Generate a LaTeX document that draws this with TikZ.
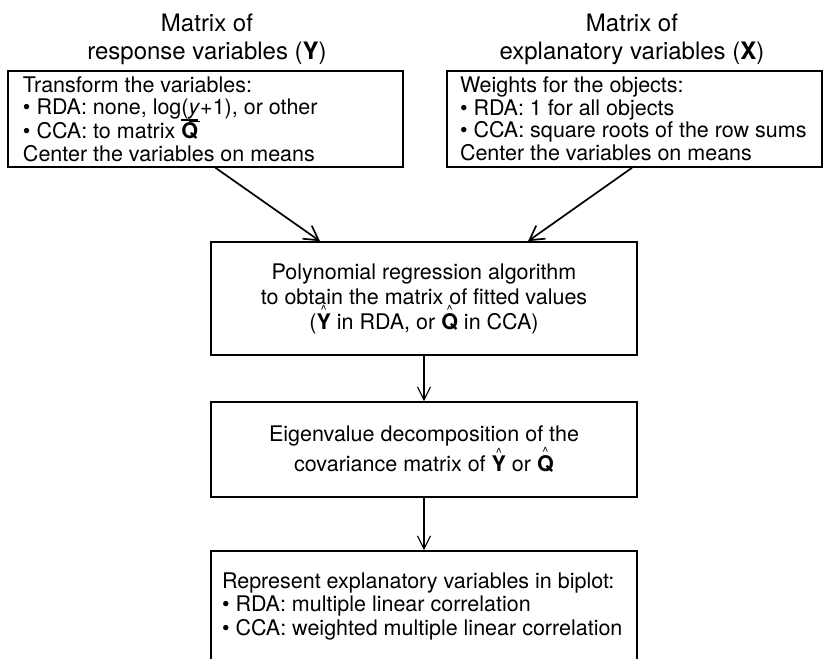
\documentclass[tikz,border=0pt]{standalone}
\usepackage{fontspec}
\setmainfont{TeX Gyre Heros}
\usetikzlibrary{arrows.meta}
\newcommand\hatbf[1]{\leavevmode\setbox0\hbox{\textbf{#1}}\setbox2\hbox{\fontsize{13}{13}\selectfont\textasciicircum}\rlap{\hbox to\wd0{\hss\raisebox{\dimexpr\ht0-1pt\relax}{\copy2}\hss}}\box0\relax}
\newcommand\barbf[1]{\leavevmode\setbox0\hbox{\textbf{#1}}\rlap{\smash{\raisebox{\dimexpr\ht0+1.2pt\relax}{\rule{\wd0}{2pt}}}}\box0\relax}
\tikzset{
  titletxt/.style={align=center, font=\fontsize{24}{28}\selectfont, inner sep=0pt},
  topbox/.style={draw, line width=1.6pt, rectangle, minimum height=96pt, inner ysep=0pt, align=flush left, font=\fontsize{21.5}{22.5}\selectfont},
  midbox/.style={draw, line width=1.6pt, rectangle, minimum width=426pt, inner sep=0pt, align=center, font=\fontsize{21.5}{25}\selectfont},
  arr/.style={line width=1.7pt, -{Straight Barb[length=14pt, width=16pt, line width=1.7pt]}},
  varr/.style={line width=1.2pt, -{Straight Barb[length=13pt, width=13pt, line width=1.2pt]}}
}
\begin{document}
\begin{tikzpicture}[x=1pt, y=-1pt]
\useasboundingbox (0,0) rectangle (828,659);
\fill[white] (0,0) rectangle (828,659);
\clip (0,0) rectangle (828,659);

\node[titletxt] (tL) at (207,39) {Matrix of\\response variables (\textbf{Y})};
\node[titletxt] (tR) at (632,39) {Matrix of\\explanatory variables (\textbf{X})};

\node[topbox, minimum width=395pt, inner xsep=15pt, text width=365pt] (L) at (205.5,119)
  {Transform the variables:\\
   \textbullet\ RDA: none, log(\underline{\textit{y}}+1), or other\\
   \textbullet\ CCA: to matrix \barbf{Q}\\
   Center the variables on means};
\node[topbox, minimum width=375pt, inner xsep=13pt, text width=349pt] (R) at (634.5,119)
  {Weights for the objects:\\
   \textbullet\ RDA: 1 for all objects\\
   \textbullet\ CCA: square roots of the row sums\\
   Center the variables on means};

\node[midbox, minimum height=113pt] (B1) at (424,298.5)
  {Polynomial regression algorithm\\
   to obtain the matrix of fitted values\\
   (\hatbf{Y} in RDA, or \hatbf{Q} in CCA)};
\node[midbox, minimum height=95pt] (B2) at (424,449.5)
  {Eigenvalue decomposition of the\\
   covariance matrix of \hatbf{Y} or \hatbf{Q}};
\node[midbox, minimum height=111pt, inner xsep=11pt, text width=404pt, align=flush left, font=\fontsize{21.5}{23.5}\selectfont] (B3) at (424,606.5)
  {Represent explanatory variables in biplot:\\
   \textbullet\ RDA: multiple linear correlation\\
   \textbullet\ CCA: weighted multiple linear correlation};

\draw[arr] ([xshift=10pt]L.south) -- ([xshift=-104pt]B1.north);
\draw[arr] ([xshift=-2.5pt]R.south) -- ([xshift=104pt]B1.north);
\draw[varr] (B1.south) -- (B2.north);
\draw[varr] (B2.south) -- (B3.north);
\end{tikzpicture}
\end{document}
